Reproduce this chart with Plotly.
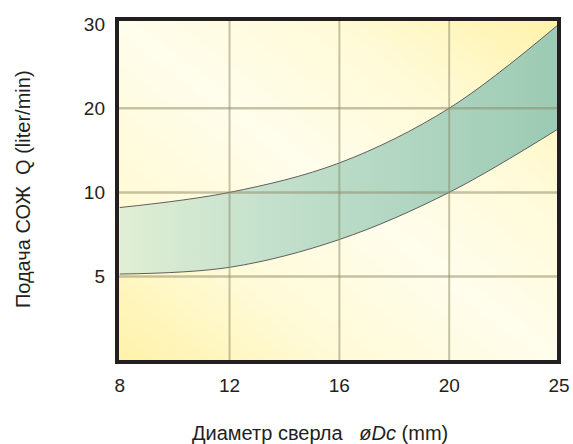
import numpy as np
import plotly.graph_objects as go

# ---- data ----
diameters = [8, 12, 16, 20, 25]             # drill diameter øDc (mm)
flow_upper = [9.1, 10.0, 13.5, 20.0, 30.0]  # coolant flow upper bound (liter/min)
flow_lower = [5.15, 5.55, 7.2, 10.0, 17.6]  # coolant flow lower bound (liter/min)
y_ticks = [5, 10, 20, 30]
x_tick_labels = ["8", "12", "16", "20", "25"]

# piecewise (non-linear) scale of the original chart: equal spacing per tick
y_scale_vals = [0, 5, 10, 20, 30]
y_scale_pos = [0, 1, 2, 3, 4]


def ymap(v):
    return np.interp(v, y_scale_vals, y_scale_pos)


x_pos = list(range(len(diameters)))
y_tick_pos = [float(ymap(v)) for v in y_ticks]

XR = [-0.025, 4]
YR = [-0.015, 4.06]

fig = go.Figure()

# background diagonal yellow gradient (style)
gx = np.linspace(XR[0], XR[1], 60)
gy = np.linspace(YR[0], YR[1], 60)
GX, GY = np.meshgrid((gx - XR[0]) / (XR[1] - XR[0]), (gy - YR[0]) / (YR[1] - YR[0]))
Z = np.abs(GX + GY - 1.0)
fig.add_trace(go.Heatmap(
    x=gx, y=gy, z=Z, zsmooth="best", showscale=False, hoverinfo="skip",
    colorscale=[[0, "#fffdec"], [0.5, "#fffad6"], [1, "#fff2a8"]], zmin=0, zmax=1,
))

# band
fig.add_trace(go.Scatter(
    x=x_pos, y=ymap(flow_lower), mode="lines",
    line=dict(color="#5e5e5e", width=1, shape="spline"),
    hoverinfo="skip", showlegend=False,
))
fig.add_trace(go.Scatter(
    x=x_pos, y=ymap(flow_upper), mode="lines",
    line=dict(color="#5e5e5e", width=1, shape="spline"),
    fill="tonexty",
    fillgradient=dict(type="horizontal",
                      colorscale=[[0, "#e0eed4"], [0.35, "#c3e0cc"], [1, "#9ccab4"]]),
    hoverinfo="skip", showlegend=False,
))

shapes = []
grid_col = "rgba(140,135,100,0.5)"
for xv in x_pos[1:-1]:
    shapes.append(dict(type="line", xref="x", yref="paper", x0=xv, x1=xv, y0=0, y1=1,
                       line=dict(color=grid_col, width=2), layer="above"))
for yv in y_tick_pos[:-1]:
    shapes.append(dict(type="line", xref="paper", yref="y", x0=0, x1=1, y0=yv, y1=yv,
                       line=dict(color=grid_col, width=2.5), layer="above"))
shapes.append(dict(type="rect", xref="paper", yref="paper", x0=0, x1=1, y0=0, y1=1,
                   line=dict(color="#231f20", width=4), fillcolor="rgba(0,0,0,0)",
                   layer="above"))

font_family = "Liberation Sans, Arial, sans-serif"

fig.update_layout(
    width=573, height=444,
    margin=dict(l=117, r=14, t=19, b=82),
    paper_bgcolor="white", plot_bgcolor="white",
    showlegend=False,
    shapes=shapes,
    xaxis=dict(range=XR, tickvals=x_pos, ticktext=x_tick_labels, showgrid=False,
               zeroline=False, showline=False, ticks="", ticklabelstandoff=10,
               automargin=False,
               tickfont=dict(family=font_family, size=19, color="#231f20"), fixedrange=True),
    yaxis=dict(range=YR, tickvals=y_tick_pos, ticktext=[str(v) for v in y_ticks],
               showgrid=False, zeroline=False, showline=False, ticks="",
               ticklabelstandoff=11, automargin=False,
               tickfont=dict(family=font_family, size=19, color="#231f20"), fixedrange=True),
    annotations=[
        dict(text="Диаметр сверла\u00a0\u00a0\u00a0<i>øDc</i> (mm)", xref="paper", yref="paper",
             x=0.459, y=-0.207, xanchor="center", yanchor="middle", showarrow=False,
             font=dict(family=font_family, size=20, color="#231f20")),
        dict(text="Подача СОЖ\u00a0\u00a0Q (liter/min)", xref="paper", yref="paper",
             x=-0.2127, y=0.504, xanchor="center", yanchor="middle", showarrow=False,
             textangle=-90, font=dict(family=font_family, size=20, color="#231f20")),
    ],
)

fig.write_html("out.html", config={"displayModeBar": False},
               post_script="document.body.style.margin='0';document.body.style.overflow='hidden';")
